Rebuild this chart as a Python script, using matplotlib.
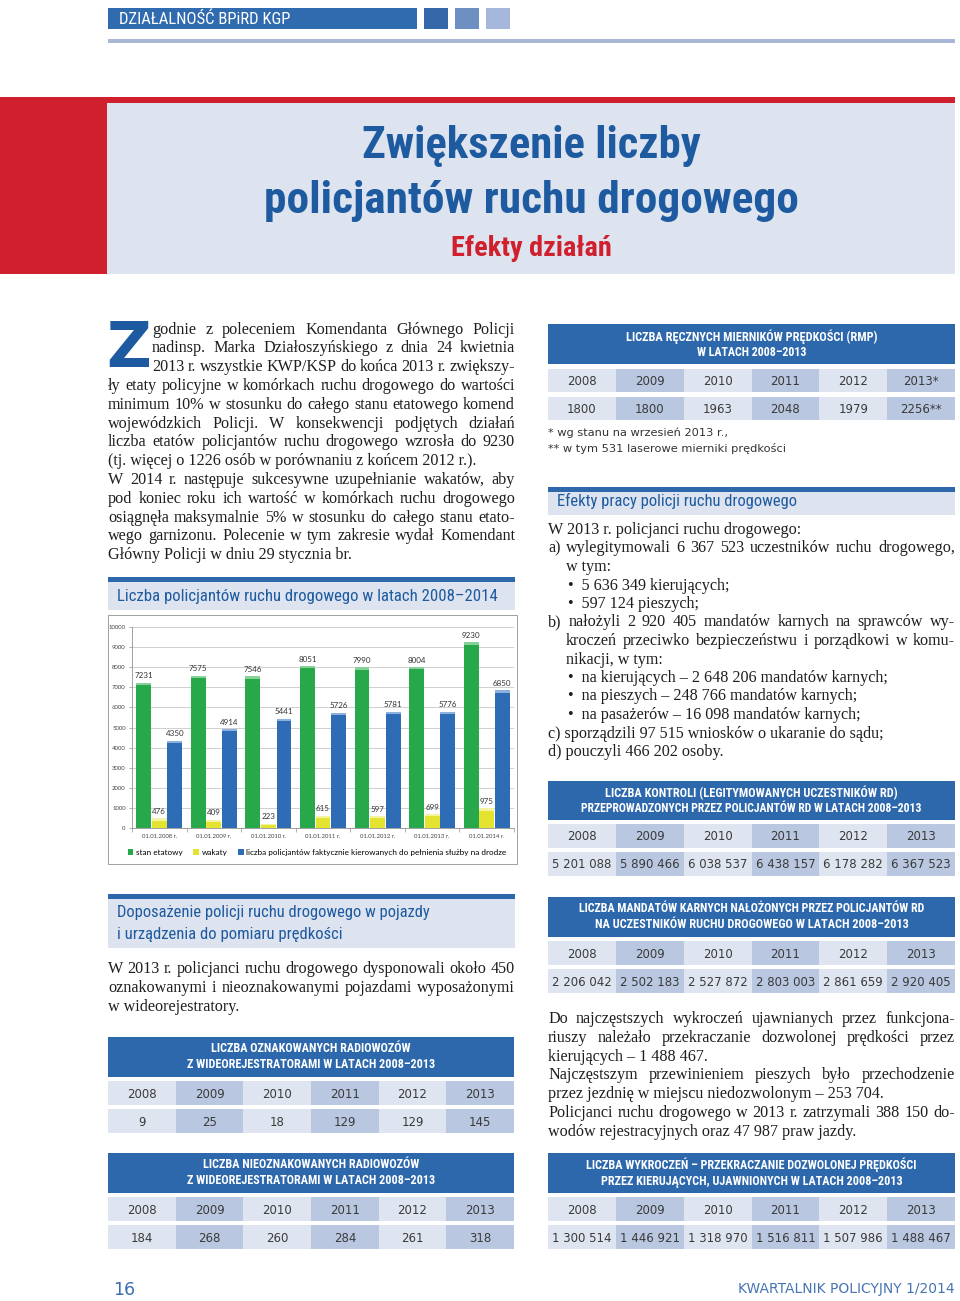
import matplotlib
matplotlib.use('Agg')
import matplotlib.pyplot as plt
from matplotlib.patches import Rectangle, Patch
from matplotlib import font_manager as fm
import numpy as np

# ---------------- DATA ----------------
chart_dates = ['01.01.2008 r.', '01.01.2009 r.', '01.01.2010 r.', '01.01.2011 r.',
               '01.01.2012 r.', '01.01.2013 r.', '01.01.2014 r.']
stan_etatowy = [7231, 7575, 7546, 8051, 7990, 8004, 9230]
wakaty = [476, 409, 223, 615, 597, 699, 975]
kierowani = [4350, 4914, 5441, 5726, 5781, 5776, 6850]
series_names = ['stan etatowy', 'wakaty',
                'liczba policjantów faktycznie kierowanych do pełnienia służby na drodze']

table_years = ['2008', '2009', '2010', '2011', '2012', '2013']
rmp_years = ['2008', '2009', '2010', '2011', '2012', '2013*']
rmp_values = ['1800', '1800', '1963', '2048', '1979', '2256**']
kontrole = ['5 201 088', '5 890 466', '6 038 537', '6 438 157', '6 178 282', '6 367 523']
mandaty = ['2 206 042', '2 502 183', '2 527 872', '2 803 003', '2 861 659', '2 920 405']
oznakowane = ['9', '25', '18', '129', '129', '145']
nieoznakowane = ['184', '268', '260', '284', '261', '318']
wykroczenia = ['1 300 514', '1 446 921', '1 318 970', '1 516 811', '1 507 986', '1 488 467']

# ---------------- FONTS ----------------
_ttf = fm.fontManager.ttflist
_names = {f.name for f in _ttf}
COND_KW = {}
NARROW = None
for cand in ['Liberation Sans Narrow', 'Roboto Condensed', 'Open Sans Condensed',
             'Arial Narrow', 'Noto Sans Condensed']:
    if cand in _names:
        NARROW = [cand, 'DejaVu Sans']
        break
if NARROW is None:
    conds = [f for f in _ttf if f.stretch in ('condensed', 'semi-condensed', 'extra-condensed')]
    if conds:
        NARROW = [conds[0].name, 'DejaVu Sans']
        COND_KW = {'fontstretch': conds[0].stretch}
    else:
        NARROW = ['Roboto', 'DejaVu Sans']
SERIF = ['Liberation Serif', 'DejaVu Serif']
SANS = ['DejaVu Sans']
CHART = ['Lato', 'DejaVu Sans']

# ---------------- STYLE ----------------
W, H = 960, 1301
HEADER_BLUE = '#2d68ad'
TITLE_BLUE = '#1d5aa0'
LIGHT_PANEL = '#dde3ef'
CELL_LIGHT = '#dfe5f0'
CELL_DARK = '#b9c7e0'
RED = '#d0202e'
TEXT = '#1e1e1e'
GREEN, GREEN_TOP = '#27a84b', '#86d196'
YELLOW, YELLOW_TOP = '#e4e330', '#f4f3a2'
BLUE, BLUE_TOP = '#2e6db6', '#8db1de'

plt.rcParams['mathtext.fontset'] = 'dejavusans'

fig = plt.figure(figsize=(9.6, 13.01), dpi=100)
page = fig.add_axes([0, 0, 1, 1])
page.set_xlim(0, W)
page.set_ylim(H, 0)
page.axis('off')
renderer = fig.canvas.get_renderer()


def rect(x0, y0, x1, y1, color, **kw):
    page.add_patch(Rectangle((x0, y0), x1 - x0, y1 - y0, facecolor=color,
                             edgecolor=kw.pop('edgecolor', 'none'), **kw))


def fit(x, y, s, target, size, maxsize=None, **kw):
    """Narrow-font text scaled so that its width matches the target width."""
    t = page.text(x, y, s, fontsize=size, family=NARROW, **COND_KW, **kw)
    w = t.get_window_extent(renderer).width
    new = size * target / w
    if maxsize is not None:
        new = min(new, maxsize)
    t.set_fontsize(new)
    return t


def line(text, x0, x1, y, justify=True, size=11.6, family=SERIF, color=TEXT):
    if not justify:
        page.text(x0, y, text, fontsize=size, family=family, color=color,
                  ha='left', va='baseline')
        return
    words = text.split(' ')
    ts = [page.text(0, y, w, fontsize=size, family=family, color=color,
                    ha='left', va='baseline') for w in words]
    widths = [t.get_window_extent(renderer).width for t in ts]
    gap = (x1 - x0 - sum(widths)) / max(len(words) - 1, 1)
    x = x0
    for t, wd in zip(ts, widths):
        t.set_x(x)
        x += wd + gap


def section_title(x0, x1, ytop, ybot, lines, ys, widths):
    rect(x0, ytop, x1, ytop + 5, HEADER_BLUE)
    rect(x0, ytop + 5, x1, ybot, LIGHT_PANEL)
    for s, y, w in zip(lines, ys, widths):
        fit(x0 + 9, y, s, w, 12.8, maxsize=13.5, color=TITLE_BLUE, ha='left', va='center')


def data_table(x0, x1, hy0, hy1, header, header_ys, header_w, rows):
    rect(x0, hy0, x1, hy1, HEADER_BLUE)
    for s, y, w in zip(header, header_ys, header_w):
        fit((x0 + x1) / 2, y, s, w, 8.3, maxsize=9, color='white', fontweight='bold',
            ha='center', va='center')
    w = (x1 - x0) / 6
    for ry0, ry1, vals in rows:
        for i, v in enumerate(vals):
            c = CELL_LIGHT if i % 2 == 0 else CELL_DARK
            rect(x0 + i * w, ry0, x0 + (i + 1) * w, ry1, c)
            page.text(x0 + (i + 0.5) * w, (ry0 + ry1) / 2 + 1, v, ha='center',
                      va='center', fontsize=8.5, family=SANS, color='#3a3a3a')


# ---------------- TOP HEADER ----------------
rect(108, 8, 417, 29, '#2f6bae')
fit(119, 19, 'DZIAŁALNOŚĆ BPiRD KGP', 196, 11.5, maxsize=12, color='white',
    ha='left', va='center')
rect(424, 8, 448, 29, '#3668a9')
rect(455, 8, 479, 29, '#6d8fc2')
rect(486, 8, 510, 29, '#a5b7da')
rect(108, 39, 955, 43, '#a9b7d7')

# title band
rect(0, 97, 955, 103, RED)
rect(0, 97, 107, 274, RED)
rect(107, 103, 955, 274, LIGHT_PANEL)
fit(531, 158, 'Zwiększenie liczby', 339, 33, maxsize=34, fontweight='bold',
    color=TITLE_BLUE, ha='center', va='baseline')
fit(531, 213, 'policjantów ruchu drogowego', 535, 33, maxsize=34, fontweight='bold',
    color=TITLE_BLUE, ha='center', va='baseline')
fit(531, 256, 'Efekty działań', 161, 21.5, maxsize=22, fontweight='bold',
    color=RED, ha='center', va='baseline')

# ---------------- INTRO ----------------
# drop cap (mathtext keeps its box tight to the glyph, so it does not run into line 4)
page.text(106, 367, r'$\mathbf{Z}$', fontsize=44.5, color=TITLE_BLUE, ha='left', va='baseline')
intro = [
    ('godnie z poleceniem Komendanta Głównego Policji', 152, True),
    ('nadinsp. Marka Działoszyńskiego z dnia 24 kwietnia', 152, True),
    ('2013 r. wszystkie KWP/KSP do końca 2013 r. zwiększy-', 152, True),
    ('ły etaty policyjne w komórkach ruchu drogowego do wartości', 108, True),
    ('minimum 10% w stosunku do całego stanu etatowego komend', 108, True),
    ('wojewódzkich Policji. W konsekwencji podjętych działań', 108, True),
    ('liczba etatów policjantów ruchu drogowego wzrosła do 9230', 108, True),
    ('(tj. więcej o 1226 osób w porównaniu z końcem 2012 r.).', 108, False),
    ('W 2014 r. następuje sukcesywne uzupełnianie wakatów, aby', 108, True),
    ('pod koniec roku ich wartość w komórkach ruchu drogowego', 108, True),
    ('osiągnęła maksymalnie 5% w stosunku do całego stanu etato-', 108, True),
    ('wego garnizonu. Polecenie w tym zakresie wydał Komendant', 108, True),
    ('Główny Policji w dniu 29 stycznia br.', 108, False),
]
for k, (s, x0, j) in enumerate(intro):
    line(s, x0, 515, 333.5 + 18.8 * k, justify=j)

# ---------------- CHART ----------------
section_title(108, 515, 577, 610, ['Liczba policjantów ruchu drogowego w latach 2008–2014'],
              [596], [381])
page.add_patch(Rectangle((108, 615), 409, 249, facecolor='white', edgecolor='#a0a0a0', lw=0.7))

ax = fig.add_axes([132 / W, 1 - 828 / H, (514 - 132) / W, (828 - 627) / H])
x = np.arange(len(chart_dates))
bw = 0.285
cap = 110
for off, vals, col, top in [(-bw, stan_etatowy, GREEN, GREEN_TOP),
                            (0, wakaty, YELLOW, YELLOW_TOP),
                            (bw, kierowani, BLUE, BLUE_TOP)]:
    vals = np.array(vals)
    ax.bar(x + off, vals, bw * 0.96, color=col, zorder=3)
    ax.bar(x + off, np.minimum(cap, vals * 0.3), bw * 0.96,
           bottom=vals - np.minimum(cap, vals * 0.3), color=top, zorder=3)
    for xi, v in zip(x + off, vals):
        ax.text(xi, v + 170, str(v), ha='center', va='bottom', fontsize=5.8,
                family=CHART, color='#333333', zorder=4)
ax.set_xlim(-0.5, len(chart_dates) - 0.5)
ax.set_ylim(0, 10000)
ax.set_yticks(np.arange(0, 10001, 1000))
ax.set_yticklabels([str(v) for v in range(0, 10001, 1000)], fontsize=4.3,
                   family=CHART, color='#444444')
ax.set_xticks(x)
ax.set_xticklabels(chart_dates, fontsize=4.3, family=CHART, color='#444444')
ax.set_xticks(np.arange(-0.5, len(chart_dates)), minor=True)
ax.tick_params(axis='x', which='major', length=0, pad=4)
ax.tick_params(axis='x', which='minor', length=3, color='#909090', width=0.5)
ax.tick_params(axis='y', length=2.5, color='#909090', width=0.5, pad=2)
ax.grid(axis='y', color='#c8c8c8', lw=0.6, zorder=0)
for s in ['top', 'right']:
    ax.spines[s].set_visible(False)
for s in ['left', 'bottom']:
    ax.spines[s].set_color('#909090')
    ax.spines[s].set_linewidth(0.6)
ax.patch.set_alpha(0)
handles = [Patch(facecolor=c, edgecolor='none') for c in (GREEN, YELLOW, BLUE)]
fig.legend(handles, series_names, loc='center', bbox_to_anchor=(317 / W, 1 - 852 / H),
           ncol=3, frameon=False, prop={'family': CHART, 'size': 5.9},
           handlelength=0.7, handleheight=0.7, handletextpad=0.3, columnspacing=1.3)

# ---------------- DOPOSAZENIE ----------------
section_title(108, 515, 894, 948, ['Doposażenie policji ruchu drogowego w pojazdy',
                                   'i urządzenia do pomiaru prędkości'], [913, 934], [313, 226])
dop = [('W 2013 r. policjanci ruchu drogowego dysponowali około 450', True),
       ('oznakowanymi i nieoznakowanymi pojazdami wyposażonymi', True),
       ('w wideorejestratory.', False)]
for k, (s, j) in enumerate(dop):
    line(s, 108, 515, 973 + 19 * k, justify=j)

data_table(108, 514, 1037, 1077, ['LICZBA OZNAKOWANYCH RADIOWOZÓW',
                                  'Z WIDEOREJESTRATORAMI W LATACH 2008–2013'], [1049, 1065],
           [198, 246], [(1081, 1105, table_years), (1109, 1133, oznakowane)])
data_table(108, 514, 1153, 1193, ['LICZBA NIEOZNAKOWANYCH RADIOWOZÓW',
                                  'Z WIDEOREJESTRATORAMI W LATACH 2008–2013'], [1165, 1181],
           [215, 246], [(1197, 1221, table_years), (1225, 1249, nieoznakowane)])

# ---------------- RIGHT COLUMN ----------------
data_table(548, 955, 324, 364, ['LICZBA RĘCZNYCH MIERNIKÓW PRĘDKOŚCI (RMP)',
                                'W LATACH 2008–2013'], [337, 352], [250, 110],
           [(369, 392, rmp_years), (397, 420, rmp_values)])
page.text(548, 433, '* wg stanu na wrzesień 2013 r.,', fontsize=8.2, family=SANS,
          color='#333333', ha='left', va='center')
page.text(548, 449, '** w tym 531 laserowe mierniki prędkości', fontsize=8.2, family=SANS,
          color='#333333', ha='left', va='center')

section_title(548, 955, 487, 515, ['Efekty pracy policji ruchu drogowego'], [501], [240])

ef = [
    ('W 2013 r. policjanci ruchu drogowego:', 548, False),
    ('a) wylegitymowali 6 367 523 uczestników ruchu drogowego,', 548, True),
    ('w tym:', 566, False),
    ('•  5 636 349 kierujących;', 568, False),
    ('•  597 124 pieszych;', 568, False),
    ('b) nałożyli 2 920 405 mandatów karnych na sprawców wy-', 548, True),
    ('kroczeń przeciwko bezpieczeństwu i porządkowi w komu-', 566, True),
    ('nikacji, w tym:', 566, False),
    ('•  na kierujących – 2 648 206 mandatów karnych;', 568, False),
    ('•  na pieszych – 248 766 mandatów karnych;', 568, False),
    ('•  na pasażerów – 16 098 mandatów karnych;', 568, False),
    ('c) sporządzili 97 515 wniosków o ukaranie do sądu;', 548, False),
    ('d) pouczyli 466 202 osoby.', 548, False),
]
for k, (s, x0, j) in enumerate(ef):
    line(s, x0, 955, 534 + 18.5 * k, justify=j)

data_table(548, 955, 781, 820, ['LICZBA KONTROLI (LEGITYMOWANYCH UCZESTNIKÓW RD)',
                                'PRZEPROWADZONYCH PRZEZ POLICJANTÓW RD W LATACH 2008–2013'],
           [793, 809], [290, 342], [(824, 848, table_years), (852, 876, kontrole)])
data_table(548, 955, 897, 937, ['LICZBA MANDATÓW KARNYCH NAŁOŻONYCH PRZEZ POLICJANTÓW RD',
                                'NA UCZESTNIKÓW RUCHU DROGOWEGO W LATACH 2008–2013'],
           [909, 925], [345, 313], [(941, 965, table_years), (969, 993, mandaty)])

rp = [('Do najczęstszych wykroczeń ujawnianych przez funkcjona-', True),
      ('riuszy należało przekraczanie dozwolonej prędkości przez', True),
      ('kierujących – 1 488 467.', False),
      ('Najczęstszym przewinieniem pieszych było przechodzenie', True),
      ('przez jezdnię w miejscu niedozwolonym – 253 704.', False),
      ('Policjanci ruchu drogowego w 2013 r. zatrzymali 388 150 do-', True),
      ('wodów rejestracyjnych oraz 47 987 praw jazdy.', False)]
for k, (s, j) in enumerate(rp):
    line(s, 548, 955, 1023 + 18.8 * k, justify=j)

data_table(548, 955, 1153, 1193, ['LICZBA WYKROCZEŃ – PRZEKRACZANIE DOZWOLONEJ PRĘDKOŚCI',
                                  'PRZEZ KIERUJĄCYCH, UJAWNIONYCH W LATACH 2008–2013'],
           [1165, 1181], [328, 298], [(1197, 1221, table_years), (1225, 1249, wykroczenia)])

# ---------------- FOOTER ----------------
page.text(113, 1290, '16', fontsize=12.5, family=SANS, color='#3a6cae', ha='left', va='center')
page.text(955, 1289, 'KWARTALNIK POLICYJNY 1/2014', fontsize=10, family=SANS,
          color='#4775b3', ha='right', va='center')

fig.savefig('out.png', dpi=100)
